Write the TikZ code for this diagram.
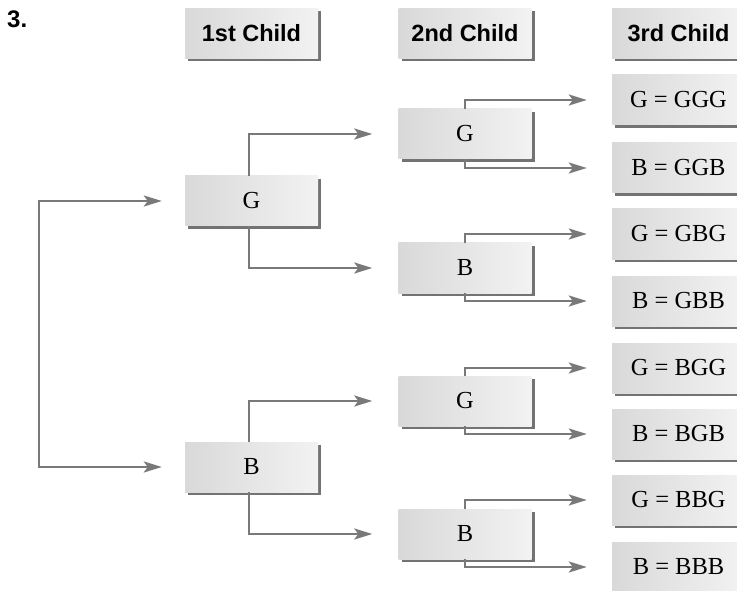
\documentclass[tikz,border=0pt]{standalone}
\usepackage{fontspec}
\setmainfont{Liberation Serif}
\setsansfont{Liberation Sans}
\usetikzlibrary{arrows.meta, shadows}

\begin{document}
\begin{tikzpicture}[
  x=1pt, y=-1pt,
  >={Stealth[length=18pt, width=11pt, inset=4pt]},
  % --- box styles ---
  childbox/.style={
    draw=none, left color=gray!30, right color=gray!10,
    minimum width=133pt, minimum height=50pt, inner sep=0pt,
    drop shadow={shadow xshift=3pt, shadow yshift=-3pt,
      fill=gray!90!black, opacity=1},
    font=\fontsize{24.5}{25}\selectfont,
  },
  headbox/.style={childbox,
    font=\fontsize{23.5}{24}\selectfont\sffamily\bfseries},
  arr/.style={->, line width=2.4pt, draw=gray!95!black},
]
\useasboundingbox (0,0) rectangle (737,591);

% ---------- Headers ----------
\node[font=\fontsize{24}{24}\selectfont\sffamily\bfseries,
  anchor=north west, inner sep=0pt] (num) at (7,11) {3.};
\node[headbox] (h1) at (251.5,33.5) {1st Child};
\node[headbox] (h2) at (465,33.5) {2nd Child};
\node[headbox] (h3) at (678.5,33.5) {3rd Child};

% ---------- 1st child ----------
\node[childbox] (g) at (251.5,201) {G};
\node[childbox] (b) at (251.5,467) {B};

% ---------- 2nd child ----------
\node[childbox] (gg) at (465,134) {G};
\node[childbox] (gb) at (465,268) {B};
\node[childbox] (bg) at (465,401) {G};
\node[childbox] (bb) at (465,534) {B};

% ---------- 3rd child ----------
\node[childbox] (ggg) at (678.5,100) {G = GGG};
\node[childbox] (ggb) at (678.5,168) {B = GGB};
\node[childbox] (gbg) at (678.5,234) {G = GBG};
\node[childbox] (gbb) at (678.5,301) {B = GBB};
\node[childbox] (bgg) at (678.5,368) {G = BGG};
\node[childbox] (bgb) at (678.5,434) {B = BGB};
\node[childbox] (bbg) at (678.5,500) {G = BBG};
\node[childbox] (bbb) at (678.5,567) {B = BBB};

% Bracket into the 1st child
\coordinate (root) at (39,334);
\draw[arr, shorten >=23pt] (root) |- (g.west);
\draw[arr, shorten >=23pt] (root) |- (b.west);

% 1st -> 2nd
\draw[arr, shorten >=26pt] ([xshift=-2.5pt]g.north) |- (gg.west);
\draw[arr, shorten >=26pt] ([xshift=-2.5pt]g.south) |- (gb.west);
\draw[arr, shorten >=26pt] ([xshift=-2.5pt]b.north) |- (bg.west);
\draw[arr, shorten >=26pt] ([xshift=-2.5pt]b.south) |- (bb.west);

% 2nd -> 3rd
\draw[arr, shorten >=25pt] (gg.north) |- (ggg.west);
\draw[arr, shorten >=25pt] (gg.south) |- (ggb.west);
\draw[arr, shorten >=25pt] (gb.north) |- (gbg.west);
\draw[arr, shorten >=25pt] (gb.south) |- (gbb.west);
\draw[arr, shorten >=25pt] (bg.north) |- (bgg.west);
\draw[arr, shorten >=25pt] (bg.south) |- (bgb.west);
\draw[arr, shorten >=25pt] (bb.north) |- (bbg.west);
\draw[arr, shorten >=25pt] (bb.south) |- (bbb.west);

\end{tikzpicture}
\end{document}
